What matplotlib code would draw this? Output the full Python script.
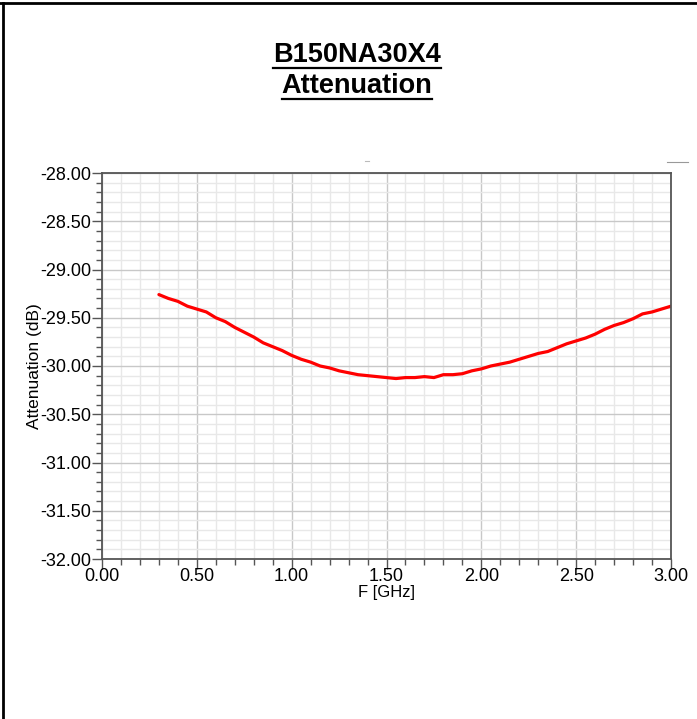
import numpy as np
import matplotlib.pyplot as plt
from matplotlib.lines import Line2D
from matplotlib.ticker import MultipleLocator, FormatStrFormatter

plt.rcParams['font.family'] = ['Liberation Sans', 'DejaVu Sans']

freq_ghz = [0.30, 0.35, 0.40, 0.45, 0.50, 0.55, 0.60, 0.65, 0.70, 0.75,
            0.80, 0.85, 0.90, 0.95, 1.00, 1.05, 1.10, 1.15, 1.20, 1.25,
            1.30, 1.35, 1.40, 1.45, 1.50, 1.55, 1.60, 1.65, 1.70, 1.75,
            1.80, 1.85, 1.90, 1.95, 2.00, 2.05, 2.10, 2.15, 2.20, 2.25,
            2.30, 2.35, 2.40, 2.45, 2.50, 2.55, 2.60, 2.65, 2.70, 2.75,
            2.80, 2.85, 2.90, 2.95, 3.00]
atten_db = [-29.26, -29.30, -29.33, -29.38, -29.41, -29.44, -29.50, -29.54, -29.60, -29.65,
            -29.70, -29.76, -29.80, -29.84, -29.89, -29.93, -29.96, -30.00, -30.02, -30.05,
            -30.07, -30.09, -30.10, -30.11, -30.12, -30.13, -30.12, -30.12, -30.11, -30.12,
            -30.09, -30.09, -30.08, -30.05, -30.03, -30.00, -29.98, -29.96, -29.93, -29.90,
            -29.87, -29.85, -29.81, -29.77, -29.74, -29.71, -29.67, -29.62, -29.58, -29.55,
            -29.51, -29.46, -29.44, -29.41, -29.38]

title_lines = ["B150NA30X4", "Attenuation"]

W, H = 697, 719
fig = plt.figure(figsize=(W / 100, H / 100), dpi=100)

# plot area in pixels: left 102, right 671, top 173, bottom 559
ax = fig.add_axes([102 / W, 1 - 559 / H, (671 - 102) / W, (559 - 173) / H])
ax.plot(freq_ghz, atten_db, color='#ff0000', lw=2.3, solid_capstyle='round')

ax.set_xlim(0, 3)
ax.set_ylim(-32, -28)
ax.xaxis.set_major_locator(MultipleLocator(0.5))
ax.xaxis.set_minor_locator(MultipleLocator(0.1))
ax.yaxis.set_major_locator(MultipleLocator(0.5))
ax.yaxis.set_minor_locator(MultipleLocator(0.1))
ax.xaxis.set_major_formatter(FormatStrFormatter('%.2f'))
ax.yaxis.set_major_formatter(FormatStrFormatter('%.2f'))
ax.grid(which='major', color='#c8c8c8', lw=1.0)
ax.grid(which='minor', color='#e8e8e8', lw=1.0)
ax.set_axisbelow(True)
ax.tick_params(which='major', direction='out', length=7, width=1, color='#555555',
               labelsize=13, pad=1)
ax.tick_params(axis='x', which='major', pad=-0.5)
ax.tick_params(which='minor', direction='out', length=4, width=1, color='#555555')
for s in ax.spines.values():
    s.set_color('#555555')
    s.set_linewidth(1.3)
ax.set_xlabel('F [GHz]', fontsize=12, va='center')
ax.set_ylabel('Attenuation (dB)', fontsize=12.5, va='center')
ax.xaxis.set_label_coords(0.5, -(592 - 559) / 386)
ax.yaxis.set_label_coords(-(102 - 35) / 569, 0.5)

# title with underline
fig.canvas.draw()
renderer = fig.canvas.get_renderer()
for i, line in enumerate(title_lines):
    yc = 1 - (55 + 31 * i) / H
    t = fig.text(357 / W, yc, line, ha='center', va='center', fontsize=19.5,
                 fontweight='bold')
    bb = t.get_window_extent(renderer).transformed(fig.transFigure.inverted())
    uy = yc - 13 / H
    fig.add_artist(Line2D([bb.x0, bb.x1], [uy, uy], transform=fig.transFigure,
                          color='black', lw=1.6))

# page border (top and left)
fig.add_artist(Line2D([0, 1], [1 - 2.5 / H, 1 - 2.5 / H], transform=fig.transFigure,
                      color='black', lw=2))
fig.add_artist(Line2D([3.5 / W, 3.5 / W], [0, 1 - 2.5 / H], transform=fig.transFigure,
                      color='black', lw=2))

# faint leftover marks above the plot
fig.add_artist(Line2D([365 / W, 369 / W], [1 - 161 / H, 1 - 161 / H], transform=fig.transFigure,
                      color='#bbbbbb', lw=0.8))
fig.add_artist(Line2D([667 / W, 688 / W], [1 - 162 / H, 1 - 162 / H], transform=fig.transFigure,
                      color='#999999', lw=0.8))

fig.savefig('out.png', dpi=100)
